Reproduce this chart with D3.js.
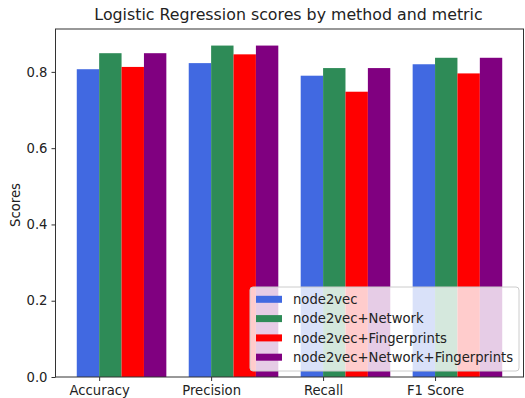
<!DOCTYPE html>
<html>
<head>
<meta charset="utf-8">
<script src="https://cdn.jsdelivr.net/npm/d3@7"></script>
<style>
  html, body { margin: 0; padding: 0; background: #fff; }
  svg { display: block; font-family: "DejaVu Sans", sans-serif; }
</style>
</head>
<body>
<svg id="chart" width="525" height="398"></svg>
<script>
// Metrics shown along the x axis
const metrics = ["Accuracy", "Precision", "Recall", "F1 Score"];

// Feature-set variants compared for each metric
const methods = [
  "node2vec",
  "node2vec+Network",
  "node2vec+Fingerprints",
  "node2vec+Network+Fingerprints"
];
const methodColors = ["#4169E1", "#2E8B57", "#FF0000", "#800080"];

// Scores per method, ordered as in `metrics`
const node2vec            = [0.807, 0.823, 0.790, 0.820];
const node2vecNetwork     = [0.849, 0.869, 0.810, 0.837];
const node2vecFingerprint = [0.813, 0.846, 0.748, 0.796];
const node2vecNetworkFp   = [0.849, 0.869, 0.810, 0.837];
const seriesValues = [node2vec, node2vecNetwork, node2vecFingerprint, node2vecNetworkFp];

const yTicks = [0.0, 0.2, 0.4, 0.6, 0.8];

const svg = d3.select("#chart");
const plot = { left: 55.5, right: 523.5, top: 29, bottom: 377 };
const labelSize = "13.2px";
const textColor = "#222";

const barWidth = 0.2;
// numeric x domain: group index with 5% margins on both sides
const xMin = -barWidth / 2, xMax = metrics.length - 1 + 3.5 * barWidth;
const pad = (xMax - xMin) * 0.05;
const x = d3.scaleLinear().domain([xMin - pad, xMax + pad]).range([plot.left, plot.right]);

const yMaxData = d3.max(seriesValues.flat());
const y = d3.scaleLinear().domain([0, yMaxData * 1.05]).range([plot.bottom, plot.top]);

// bars
seriesValues.forEach((vals, si) => {
  svg.append("g").selectAll("rect")
    .data(vals)
    .join("rect")
    .attr("x", (d, i) => x(i + si * barWidth - barWidth / 2))
    .attr("width", (d, i) => x(i + si * barWidth + barWidth / 2) - x(i + si * barWidth - barWidth / 2))
    .attr("y", d => y(d))
    .attr("height", d => y(0) - y(d))
    .attr("fill", methodColors[si]);
});

// frame
svg.append("rect")
  .attr("x", plot.left).attr("y", plot.top)
  .attr("width", plot.right - plot.left).attr("height", plot.bottom - plot.top)
  .attr("fill", "none").attr("stroke", "#333").attr("stroke-width", 1);

// y axis
const yAxis = d3.axisLeft(y).tickValues(yTicks).tickFormat(d3.format(".1f"))
  .tickSize(4).tickPadding(4);
const gy = svg.append("g").attr("transform", `translate(${plot.left},0)`).call(yAxis);
gy.select(".domain").remove();
gy.selectAll("line").attr("stroke", "#333");
gy.selectAll("text").attr("font-size", labelSize).attr("fill", textColor)
  .attr("font-family", "DejaVu Sans");

// x axis: ticks between first and second bar of each group
const xAxis = d3.axisBottom(x)
  .tickValues(metrics.map((m, i) => i + barWidth / 2))
  .tickFormat((d, i) => metrics[i])
  .tickSize(4).tickPadding(5);
const gx = svg.append("g").attr("transform", `translate(0,${plot.bottom})`).call(xAxis);
gx.select(".domain").remove();
gx.selectAll("line").attr("stroke", "#333");
gx.selectAll("text").attr("font-size", labelSize).attr("fill", textColor)
  .attr("font-family", "DejaVu Sans");

// title
svg.append("text")
  .attr("x", (plot.left + plot.right) / 2 - 1).attr("y", 20)
  .attr("text-anchor", "middle")
  .attr("font-size", "15.8px").attr("fill", textColor)
  .text("Logistic Regression scores by method and metric");

// y label
svg.append("text")
  .attr("transform", `translate(19.5,205) rotate(-90)`)
  .attr("text-anchor", "middle")
  .attr("font-size", labelSize).attr("fill", textColor)
  .text("Scores");

// legend
const lg = svg.append("g").attr("transform", "translate(250,287)");
lg.append("rect")
  .attr("x", 0).attr("y", 0).attr("width", 269).attr("height", 84)
  .attr("rx", 3).attr("ry", 3)
  .attr("fill", "#fff").attr("fill-opacity", 0.8)
  .attr("stroke", "#ccc").attr("stroke-width", 1);
methods.forEach((m, i) => {
  const cy = 12.3 + i * 19.3;
  lg.append("rect")
    .attr("x", 6).attr("y", cy - 3.5).attr("width", 26).attr("height", 7)
    .attr("fill", methodColors[i]);
  lg.append("text")
    .attr("x", 43).attr("y", cy + 4.6)
    .attr("font-size", labelSize).attr("fill", textColor)
    .text(m);
});
</script>
</body>
</html>
